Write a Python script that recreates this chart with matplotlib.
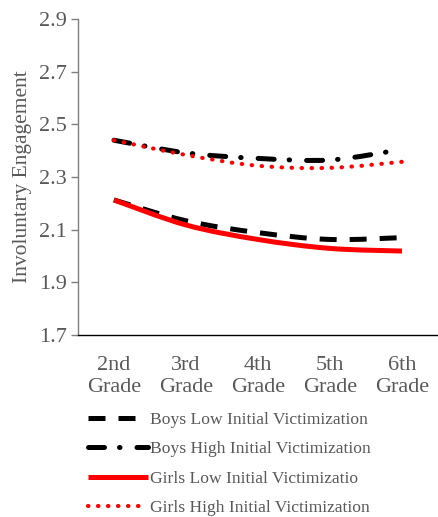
import numpy as np
import matplotlib
matplotlib.use("Agg")
import matplotlib.pyplot as plt
from matplotlib.path import Path
from matplotlib.patches import PathPatch
from matplotlib.lines import Line2D

plt.rcParams['font.family'] = ['Liberation Serif', 'DejaVu Serif']

# data
grades = ["2nd\nGrade", "3rd\nGrade", "4th\nGrade", "5th\nGrade", "6th\nGrade"]
boys_low = [2.213, 2.134, 2.089, 2.063, 2.070]
boys_high = [2.440, 2.392, 2.371, 2.365, 2.405]
girls_low = [2.213, 2.118, 2.063, 2.029, 2.019]
girls_high = [2.440, 2.384, 2.343, 2.335, 2.358]
labels = ["Boys Low Initial Victimization",
          "Boys High Initial Victimization",
          "Girls Low Initial Victimizatio",
          "Girls High Initial Victimization"]
yticks = [1.7, 1.9, 2.1, 2.3, 2.5, 2.7, 2.9]

gray = "#595959"


# smoothed line like Excel (Catmull-Rom as cubic Bezier path)
def smooth_path(ys):
    x = np.arange(len(ys), dtype=float)
    y = np.asarray(ys, dtype=float)
    verts = [(x[0], y[0])]
    codes = [Path.MOVETO]
    n = len(x)
    for i in range(n - 1):
        p0 = (x[max(i - 1, 0)], y[max(i - 1, 0)])
        p1 = (x[i], y[i])
        p2 = (x[i + 1], y[i + 1])
        p3 = (x[min(i + 2, n - 1)], y[min(i + 2, n - 1)])
        c1 = (p1[0] + (p2[0] - p0[0]) / 6, p1[1] + (p2[1] - p0[1]) / 6)
        c2 = (p2[0] - (p3[0] - p1[0]) / 6, p2[1] - (p3[1] - p1[1]) / 6)
        verts += [c1, c2, p2]
        codes += [Path.CURVE4] * 3
    return Path(verts, codes)


fig = plt.figure(figsize=(4.38, 5.17), dpi=100)
ax = fig.add_axes([0.178, 0.352, 0.822, 0.611])

styles = [
    dict(color="black", lw=3.6, ls=(0, (3.4, 2.6)), cap="butt"),
    dict(color="black", lw=3.6, ls=(0, (3.2, 3.0, 0.1, 3.4)), cap="round"),
    dict(color="red", lw=3.6, ls="-", cap="butt"),
    dict(color="red", lw=3.0, ls=(0, (0.1, 2.3)), cap="round"),
]
series = [boys_low, boys_high, girls_low, girls_high]

handles = []
for ys, st, lab in zip(series, styles, labels):
    patch = PathPatch(smooth_path(ys), fill=False, edgecolor=st["color"],
                      linewidth=st["lw"], linestyle=st["ls"])
    patch.set_capstyle(st["cap"])
    ax.add_patch(patch)
    h = Line2D([], [], color=st["color"], lw=st["lw"], ls=st["ls"],
               dash_capstyle=st["cap"], solid_capstyle="butt")
    handles.append(h)

ax.set_xlim(-0.5, len(grades) - 0.5)
ax.set_ylim(1.7, 2.9)
ax.set_yticks(yticks)
ax.set_yticklabels([f"{v:.1f}" for v in yticks])
ax.set_xticks(range(len(grades)))
ax.set_xticklabels(grades, linespacing=1.25)

for s in ["top", "right"]:
    ax.spines[s].set_visible(False)
ax.spines["left"].set_color("#7f7f7f")
ax.spines["bottom"].set_color("black")
ax.spines["left"].set_linewidth(1.0)
ax.spines["bottom"].set_linewidth(1.0)
ax.tick_params(axis="y", colors="#7f7f7f", labelcolor=gray, labelsize=16,
               length=5, width=1.0, direction="out", pad=3)
ax.tick_params(axis="x", length=0, labelcolor=gray, labelsize=16, pad=15)
ax.set_ylabel("Involuntary Engagement", fontsize=15.5, color=gray, labelpad=5)

leg = fig.legend(handles, labels, loc="upper left", bbox_to_anchor=(0.185, 0.217),
                 frameon=False, fontsize=12.6, handlelength=3.4, handletextpad=0.15,
                 labelspacing=0.75, borderaxespad=0)
for t in leg.get_texts():
    t.set_color(gray)

fig.savefig("out.png", dpi=100)
